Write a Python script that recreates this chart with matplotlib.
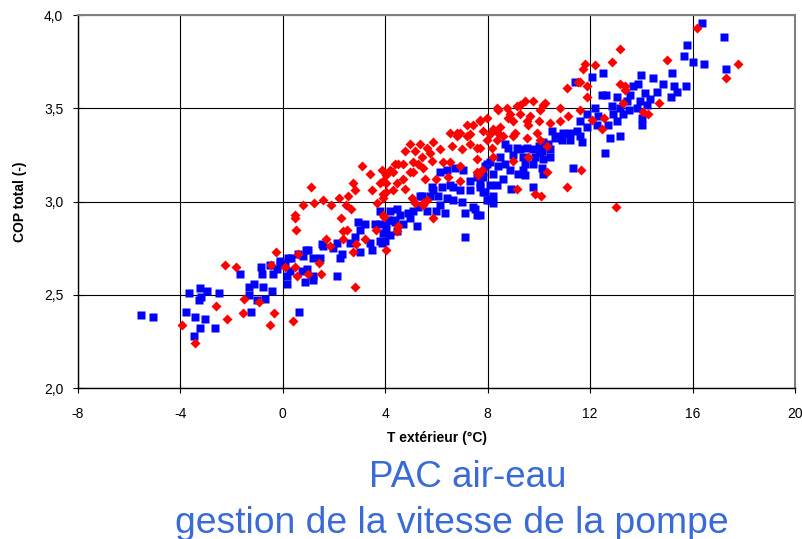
import matplotlib
matplotlib.use("Agg")
import matplotlib.pyplot as plt
from matplotlib.ticker import FuncFormatter, MultipleLocator

plt.rcParams['font.family'] = ['Liberation Sans', 'DejaVu Sans']
plt.rcParams['axes.unicode_minus'] = False

# ────────────────────────────────
# Data
# ────────────────────────────────
blue_t = [
    -5.54, -5.05, -3.66, -3.23, -2.95, -3.21, -3.27, -2.48, -3.79, -3.42,
    -3.04, -3.23, -2.64, -3.46, -1.67, -1.31, -1.13, -1.31, -0.76, -0.41,
    -1.02, -0.70, -1.23, -0.85, -0.82, -0.37, -0.11, -0.24, -0.50, 0.15,
    0.20, -0.10, 0.33, 0.92, 0.59, 0.88, 0.62, 2.95, 3.21, 3.02,
    3.60, 3.80, 3.93, 4.12, 2.63, 3.02, 3.47, 2.10, 1.97, 2.23,
    1.58, 1.45, 1.00, 1.19, 0.80, 0.93, 0.74, 0.15, 0.28, 1.19,
    2.10, 6.14, 6.40, 6.73, 7.05, 7.96, 7.83, 7.57, 7.31, 7.70,
    5.81, 6.20, 6.53, 6.92, 7.31, 7.83, 5.42, 5.75, 6.07, 6.40,
    6.66, 6.98, 6.14, 5.62, 6.00, 6.33, 7.11, 7.50, 7.57, 5.29,
    5.10, 4.90, 4.45, 4.19, 4.58, 4.97, 4.32, 4.71, 5.23, 4.05,
    4.45, 4.19, 3.99, 3.86, 7.11, 11.41, 11.87, 11.61, 11.87, 11.48,
    11.22, 10.96, 10.50, 11.61, 11.22, 10.89, 10.63, 10.36, 10.17, 9.99,
    10.44, 10.11, 9.79, 9.52, 9.27, 8.81, 8.68, 9.00, 9.39, 9.85,
    10.17, 10.44, 8.48, 8.09, 8.68, 9.46, 9.79, 8.42, 7.89, 8.87,
    9.20, 9.46, 10.11, 10.17, 8.22, 7.83, 8.61, 8.09, 7.70, 7.89,
    8.93, 9.79, 11.35, 8.09, 8.22, 7.70, 15.78, 15.68, 12.07, 12.52,
    13.99, 14.47, 15.19, 14.84, 15.28, 15.38, 15.75, 15.15, 13.89, 13.69,
    13.56, 14.15, 14.60, 14.34, 13.95, 14.21, 12.46, 12.63, 13.04, 13.43,
    13.82, 12.85, 13.17, 13.50, 12.20, 12.32, 12.91, 13.30, 14.02, 14.02,
    13.04, 12.71, 12.26, 11.67, 12.78, 13.15, 12.59, 16.36, 17.21, 16.03,
    16.43, 17.31, 2.30, 1.52, 0.09, 1.19, 3.80, 4.38, 3.80, 2.82,
    3.41, 4.05, 5.36, 5.88, 6.66, 8.35, 9.39, 10.05, 10.70, 9.14,
    8.22, 7.96, 7.44,
]
blue_cop = [
    2.39, 2.38, 2.51, 2.535, 2.52, 2.49, 2.47, 2.51, 2.41, 2.38,
    2.37, 2.32, 2.32, 2.28, 2.61, 2.54, 2.56, 2.50, 2.54, 2.52,
    2.47, 2.48, 2.41, 2.65, 2.61, 2.61, 2.67, 2.64, 2.66, 2.56,
    2.70, 2.68, 2.70, 2.74, 2.72, 2.57, 2.41, 2.89, 2.88, 2.85,
    2.88, 2.79, 2.83, 2.90, 2.78, 2.73, 2.74, 2.78, 2.75, 2.70,
    2.76, 2.70, 2.74, 2.70, 2.71, 2.64, 2.63, 2.60, 2.63, 2.58,
    2.60, 3.16, 3.17, 3.18, 3.17, 3.20, 3.16, 3.13, 3.11, 3.10,
    3.08, 3.08, 3.09, 3.06, 3.06, 3.05, 3.03, 3.03, 3.03, 3.02,
    3.01, 3.00, 2.98, 2.95, 2.95, 2.94, 2.94, 2.96, 2.93, 2.97,
    2.95, 2.94, 2.96, 2.95, 2.93, 2.91, 2.90, 2.88, 2.87, 2.88,
    2.84, 2.82, 2.79, 2.78, 2.81, 3.64, 3.47, 3.43, 3.40, 3.38,
    3.37, 3.37, 3.38, 3.35, 3.33, 3.33, 3.34, 3.31, 3.32, 3.30,
    3.28, 3.27, 3.28, 3.29, 3.28, 3.29, 3.31, 3.25, 3.24, 3.24,
    3.23, 3.24, 3.24, 3.21, 3.20, 3.20, 3.20, 3.19, 3.19, 3.17,
    3.15, 3.14, 3.18, 3.15, 3.15, 3.13, 3.12, 3.09, 3.08, 3.05,
    3.07, 3.08, 3.18, 3.01, 2.99, 2.93, 3.84, 3.78, 3.67, 3.69,
    3.68, 3.66, 3.69, 3.63, 3.62, 3.59, 3.62, 3.56, 3.63, 3.62,
    3.57, 3.58, 3.59, 3.55, 3.54, 3.52, 3.57, 3.57, 3.56, 3.54,
    3.50, 3.51, 3.50, 3.49, 3.50, 3.46, 3.47, 3.47, 3.45, 3.41,
    3.43, 3.41, 3.41, 3.32, 3.34, 3.35, 3.26, 3.96, 3.88, 3.75,
    3.74, 3.71, 2.72, 2.77, 2.66, 2.60, 2.95, 2.89, 2.88, 2.81,
    2.78, 2.84, 3.03, 3.06, 3.08, 3.09, 3.17, 3.26, 3.35, 3.29,
    3.03, 3.01, 2.97,
]

red_t = [
    -2.26, -1.83, -0.28, -0.45, 0.09, -2.59, -1.52, -0.92, -2.19, -1.57,
    -0.34, -0.50, -3.95, -3.42, 0.49, 0.55, 0.98, 0.53, 0.49, 0.78,
    1.22, 1.09, 0.40, 1.56, 1.87, 2.21, 2.56, 2.73, 2.81, 2.47,
    2.66, 0.48, 2.27, 3.41, 3.47, 3.80, 3.93, 3.67, 2.36, 2.49,
    1.67, 1.84, 2.36, 2.86, 2.73, 3.22, 3.64, 3.96, 4.05, 0.61,
    1.43, 1.49, 2.82, 7.70, 7.44, 7.18, 6.92, 6.53, 6.79, 7.18,
    7.31, 7.57, 6.98, 6.59, 5.88, 6.14, 5.75, 5.36, 4.97, 4.77,
    5.16, 5.42, 5.81, 6.27, 6.53, 5.10, 4.51, 4.32, 4.05, 5.49,
    5.10, 5.56, 4.71, 4.77, 4.45, 3.93, 4.05, 4.32, 3.93, 6.00,
    6.47, 6.92, 7.57, 7.64, 5.03, 5.16, 5.49, 5.62, 5.88, 3.93,
    4.51, 4.45, 11.74, 11.61, 11.87, 11.11, 11.87, 10.23, 9.79, 9.46,
    9.13, 8.74, 8.42, 9.27, 9.66, 10.05, 10.83, 11.61, 8.81, 7.96,
    9.00, 9.52, 9.99, 10.44, 10.83, 11.15, 8.48, 8.22, 9.59, 7.83,
    8.09, 8.42, 9.07, 8.61, 9.00, 7.96, 8.35, 9.92, 10.05, 9.52,
    10.30, 7.70, 8.16, 8.22, 9.00, 9.59, 7.76, 10.30, 9.13, 9.85,
    10.09, 11.08, 11.63, 13.17, 11.80, 12.20, 12.85, 14.99, 13.17, 13.37,
    13.37, 13.30, 14.71, 14.08, 14.28, 12.07, 12.55, 12.46, 13.02, 11.52,
    16.19, 17.79, 17.31, 3.11, 4.05, 3.86, 4.19, 4.38, 4.71, 4.97,
    5.29, 5.62, 5.49, 6.79, 7.70, 7.31, 8.35, 8.87, 9.27, 10.17,
    7.57, 6.92,
]
red_cop = [
    2.66, 2.65, 2.73, 2.66, 2.65, 2.44, 2.48, 2.46, 2.37, 2.40,
    2.40, 2.34, 2.34, 2.24, 2.65, 2.60, 2.61, 2.85, 2.93, 2.98,
    2.99, 3.08, 2.36, 3.01, 2.98, 3.02, 3.03, 3.10, 3.06, 2.98,
    2.96, 2.91, 2.91, 3.15, 3.06, 3.10, 3.04, 2.99, 2.84, 2.85,
    2.80, 2.76, 2.80, 2.77, 2.73, 2.80, 2.85, 2.92, 2.74, 2.72,
    2.67, 2.61, 2.54, 3.44, 3.41, 3.41, 3.37, 3.37, 3.35, 3.35,
    3.31, 3.29, 3.28, 3.30, 3.32, 3.28, 3.26, 3.31, 3.31, 3.27,
    3.27, 3.24, 3.22, 3.21, 3.21, 3.21, 3.20, 3.16, 3.14, 3.18,
    3.16, 3.12, 3.12, 3.07, 3.10, 3.11, 3.05, 3.06, 3.02, 3.12,
    3.13, 3.11, 3.16, 3.14, 3.02, 2.99, 2.98, 3.01, 2.91, 2.93,
    2.87, 2.84, 3.71, 3.64, 3.62, 3.61, 3.56, 3.53, 3.54, 3.54,
    3.51, 3.50, 3.49, 3.47, 3.46, 3.49, 3.50, 3.49, 3.45, 3.45,
    3.43, 3.43, 3.43, 3.42, 3.43, 3.46, 3.40, 3.39, 3.41, 3.38,
    3.36, 3.37, 3.37, 3.35, 3.35, 3.33, 3.33, 3.37, 3.33, 3.34,
    3.30, 3.29, 3.29, 3.24, 3.22, 3.24, 3.17, 3.16, 3.07, 3.04,
    3.03, 3.08, 3.17, 3.82, 3.74, 3.73, 3.75, 3.76, 3.63, 3.62,
    3.60, 3.53, 3.53, 3.48, 3.47, 3.44, 3.45, 3.39, 2.97, 3.64,
    3.93, 3.74, 3.66, 3.19, 3.10, 3.17, 3.17, 3.20, 3.20, 3.16,
    3.20, 3.29, 2.99, 3.37, 3.43, 3.36, 3.50, 3.47, 3.52, 3.52,
    3.23, 3.19,
]

x_ticks = [-8, -4, 0, 4, 8, 12, 16, 20]
title_lines = ["PAC air-eau", "gestion de la vitesse de la pompe"]
TITLE_BLUE = "#3A6AD6"


# ────────────────────────────────
# Figure
# ────────────────────────────────
fig = plt.figure(figsize=(8.03, 5.39), dpi=100)
ax = fig.add_axes([0.097, 0.280, 0.893, 0.692])

ax.plot(blue_t, blue_cop, ls="none", marker="s", ms=6.2, color="#0000FF", mec="none", zorder=3)
ax.plot(red_t, red_cop, ls="none", marker="D", ms=5.3, color="#FF0000", mec="none", zorder=4)

ax.set_xlim(-8, 20)
ax.set_ylim(2.0, 4.0)
ax.set_xticks(x_ticks)
ax.yaxis.set_major_locator(MultipleLocator(0.5))
ax.yaxis.set_major_formatter(FuncFormatter(lambda v, _: f"{v:.1f}".replace(".", ",")))

ax.grid(True, color="black", linewidth=0.8)
ax.set_axisbelow(True)

for side in ("left", "bottom"):
    ax.spines[side].set_color("black")
    ax.spines[side].set_linewidth(1.0)
for side in ("top", "right"):
    ax.spines[side].set_color("#808080")
    ax.spines[side].set_linewidth(1.5)

ax.tick_params(axis="both", direction="inout", length=7, width=0.8, labelsize=10, colors="black")
ax.tick_params(axis="x", pad=10)
ax.tick_params(axis="y", pad=7)

fig.text(0.544, 0.187, "T extérieur (°C)", ha="center", va="center", fontsize=10, fontweight="bold")
fig.text(0.025, 0.626, "COP total (-)", ha="center", va="center", rotation=90, fontsize=10, fontweight="bold")

fig.text(0.583, 0.0965, title_lines[0], ha="center", va="baseline", fontsize=26.5, color=TITLE_BLUE)
fig.text(0.563, 0.012, title_lines[1], ha="center", va="baseline", fontsize=26.8, color=TITLE_BLUE)

fig.savefig("out.png", dpi=100)
